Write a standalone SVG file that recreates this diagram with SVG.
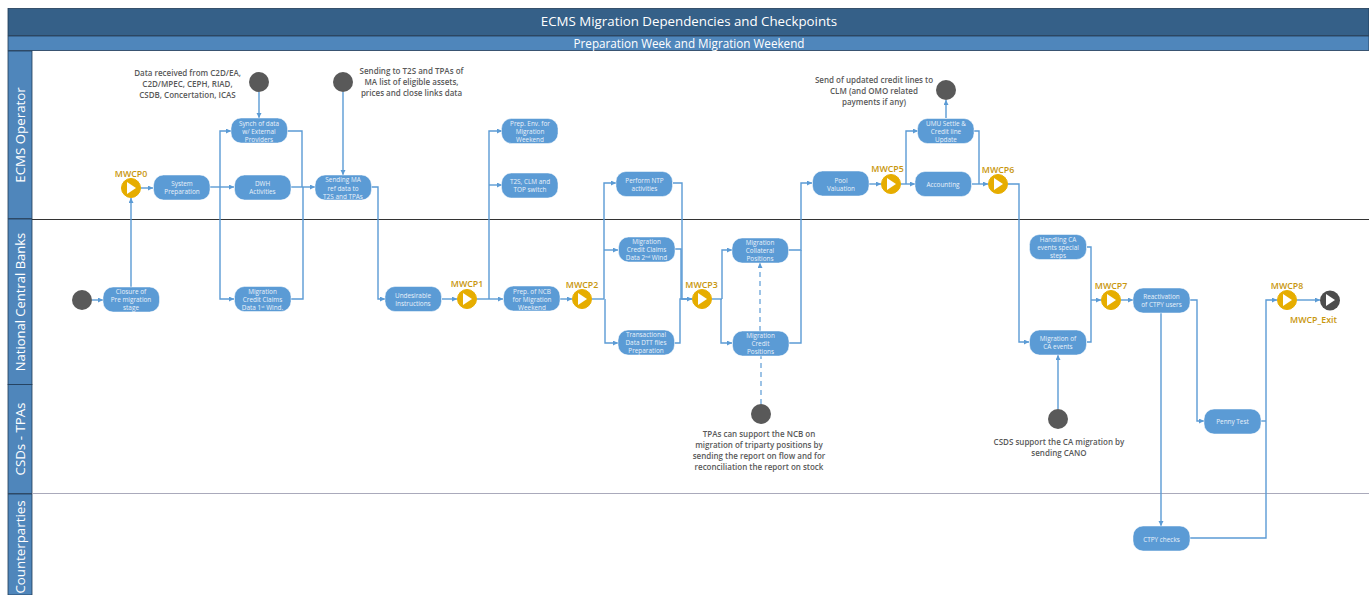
<svg xmlns="http://www.w3.org/2000/svg" width="1369" height="595" viewBox="0 0 1369 595">
<style>
text{font-family:"Open Sans","Noto Sans","Liberation Sans",sans-serif}
.n rect{fill:#5b9bd5;stroke:#fff;stroke-width:.5}
.n text{fill:#eaf2fa;font-size:6.4px;text-anchor:middle}
.c{fill:none;stroke:#5b9bd5;stroke-width:1.4;marker-end:url(#a)}
.p{fill:none;stroke:#5b9bd5;stroke-width:1.4}
.d{fill:none;stroke:#5b9bd5;stroke-width:1.2;stroke-dasharray:5 4}
.g circle{fill:#595959}
.cp circle{fill:#e6ad00;stroke:#e6ad00}
.cp polygon,.x polygon{fill:#fff}
.cp text,.x text{fill:#c8960c;font-size:8.8px;font-weight:600;text-anchor:middle}
.l{fill:#595959;font-size:8px;font-weight:600;text-anchor:middle}
.h{fill:#fff;text-anchor:middle}
.lane{fill:#4f86bb;stroke:#1f3a56;stroke-width:.8}
</style>
<defs><marker id="a" markerWidth="6" markerHeight="6" refX="5" refY="2.5" orient="auto" markerUnits="userSpaceOnUse"><path d="M0 0L5 2.5L0 5z" fill="#5b9bd5"/></marker></defs>
<rect width="1369" height="595" fill="#fff"/>
<g id="header">
<rect x="8" y="8.500" width="1361" height="27" fill="#356088" stroke="#1f3a56" stroke-width=".8"/>
<rect x="8" y="36" width="1361" height="14.500" fill="#4f86bb" stroke="#1f3a56" stroke-width=".8"/>
<text class="h" x="689" y="26" font-size="13.300">ECMS Migration Dependencies and Checkpoints</text>
<text class="h" x="689" y="47.500" font-size="11.700">Preparation Week and Migration Weekend</text>
</g>
<g id="lanes">
<rect class="lane" x="8" y="51" width="24" height="167.500"/>
<rect class="lane" x="8" y="219" width="24" height="165.500"/>
<rect class="lane" x="8" y="384.500" width="24" height="109"/>
<rect class="lane" x="8" y="494" width="24" height="101"/>
<path d="M32 219.500H1369" stroke="#333" stroke-width="1"/>
<path d="M32 493.500H1369" stroke="#aab" stroke-width="1"/>
<text class="h" transform="translate(25 135) rotate(-90)" font-size="13.300">ECMS Operator</text>
<text class="h" transform="translate(25 302) rotate(-90)" font-size="13">National Central Banks</text>
<text class="h" transform="translate(25 439) rotate(-90)" font-size="13.300">CSDs - TPAs</text>
<text class="h" transform="translate(25 547) rotate(-90)" font-size="13.300">Counterparties</text>
</g>
<g id="connectors">
<path class="c" d="M259 92V118"/>
<path class="c" d="M343 92V175"/>
<path class="c" d="M92 300H103"/>
<path class="c" d="M131 287V198"/>
<path class="c" d="M141 188H153"/>
<path class="c" d="M210 187H234"/>
<path class="c" d="M220 187V131H231"/>
<path class="c" d="M220 187V299H234"/>
<path class="p" d="M287 131H302V187"/>
<path class="c" d="M291 187H315"/>
<path class="p" d="M291 299H303V187"/>
<path class="c" d="M371 187H378V299H385"/>
<path class="c" d="M442 299H457"/>
<path class="c" d="M477 299H503"/>
<path class="c" d="M489 299V131H502"/>
<path class="c" d="M489 185H502"/>
<path class="c" d="M560 299H572"/>
<path class="p" d="M592 299H604"/>
<path class="c" d="M604 299V183H616"/>
<path class="c" d="M604 250H618"/>
<path class="c" d="M605 299V343H618"/>
<path class="c" d="M673 183H682V299H692"/>
<path class="p" d="M675 249H681V299"/>
<path class="p" d="M674 343H680V299H692"/>
<path class="p" d="M712 299H722"/>
<path class="c" d="M722 299V250H732"/>
<path class="c" d="M721 299V343H732"/>
<path class="c" d="M788 250H801V183H812"/>
<path class="p" d="M789 343H801V250"/>
<path class="c" d="M869 184H881"/>
<path class="c" d="M901 184H915"/>
<path class="c" d="M906 184V131H918"/>
<path class="c" d="M946 118V100"/>
<path class="p" d="M974 131H979V184"/>
<path class="c" d="M972 184H988"/>
<path class="c" d="M1008 184H1019V342H1029"/>
<path class="p" d="M1087 247H1091V342H1087"/>
<path class="c" d="M1091 300H1101"/>
<path class="c" d="M1058 409V355"/>
<path class="d" d="M761 404V356"/>
<path class="d" d="M760 331V263" marker-end="url(#a)"/>
<path class="c" d="M1121 300H1133"/>
<path class="c" d="M1190 300H1197V421H1204"/>
<path class="c" d="M1161 313V526"/>
<path class="p" d="M1261 421H1266"/>
<path class="c" d="M1190 538H1266V300H1277"/>
<path class="c" d="M1297 300H1320"/>
</g>
<g id="start1" class="g"><circle cx="259" cy="82" r="10"/></g>
<g id="start2" class="g"><circle cx="343" cy="82" r="10"/></g>
<g id="start3" class="g"><circle cx="82" cy="300" r="10"/></g>
<g id="end1" class="g"><circle cx="946" cy="90" r="10"/></g>
<g id="start4" class="g"><circle cx="761" cy="414" r="10"/></g>
<g id="start5" class="g"><circle cx="1058" cy="419" r="10"/></g>
<g id="note1"><text class="l" x="187.500" y="76">Data received from C2D/EA,</text><text class="l" x="187.500" y="87">C2D/MPEC, CEPH, RIAD,</text><text class="l" x="187.500" y="98">CSDB, Concertation, ICAS</text></g>
<g id="note2"><text class="l" x="411.500" y="73.500">Sending to T2S and TPAs of</text><text class="l" x="411.500" y="84.500">MA list of eligible assets,</text><text class="l" x="411.500" y="95.500">prices and close links data</text></g>
<g id="note3"><text class="l" x="874" y="82.500">Send of updated credit lines to</text><text class="l" x="874" y="93.500">CLM (and OMO related</text><text class="l" x="874" y="104.500">payments if any)</text></g>
<g id="note4"><text class="l" x="759" y="436.500">TPAs can support the NCB on</text><text class="l" x="759" y="447.500">migration of triparty positions by</text><text class="l" x="759" y="458.500">sending the report on flow and for</text><text class="l" x="759" y="469.500">reconciliation the report on stock</text></g>
<g id="note5"><text class="l" x="1059" y="445">CSDS support the CA migration by</text><text class="l" x="1059" y="456">sending CANO</text></g>
<g id="n_synch" class="n"><rect x="231" y="118" width="56.500" height="25" rx="10"/><text x="259" y="125.500">Synch of data</text><text x="259" y="133.500">w/ External</text><text x="259" y="142">Providers</text></g>
<g id="n_system" class="n"><rect x="153.500" y="175" width="56.500" height="25" rx="10"/><text x="182" y="186">System</text><text x="182" y="194">Preparation</text></g>
<g id="n_dwh" class="n"><rect x="234.500" y="175" width="56.500" height="25" rx="10"/><text x="262.500" y="186">DWH</text><text x="262.500" y="194">Activities</text></g>
<g id="n_sending" class="n"><rect x="315" y="175" width="56.500" height="25" rx="10"/><text x="343" y="182">Sending MA</text><text x="343" y="190.500">ref data to</text><text x="343" y="198.500">T2S and TPAs</text></g>
<g id="n_closure" class="n"><rect x="103" y="287" width="56.500" height="25" rx="10"/><text x="131" y="294">Closure of</text><text x="131" y="302">Pre migration</text><text x="131" y="310">stage</text></g>
<g id="n_mcc1" class="n"><rect x="234.500" y="286.500" width="56.500" height="25" rx="10"/><text x="262.500" y="293.500">Migration</text><text x="262.500" y="301.500">Credit Claims</text><text x="262.500" y="309.500">Data 1<tspan font-size="4" dy="-2">st</tspan><tspan dy="2"> Wind.</tspan></text></g>
<g id="n_undesirable" class="n"><rect x="385" y="286.500" width="56.500" height="25" rx="10"/><text x="413" y="297.500">Undesirable</text><text x="413" y="305.500">Instructions</text></g>
<g id="n_prepenv" class="n"><rect x="501.500" y="118.500" width="56.500" height="25" rx="10"/><text x="530" y="125.500">Prep. Env. for</text><text x="530" y="133.500">Migration</text><text x="530" y="141.500">Weekend</text></g>
<g id="n_t2s" class="n"><rect x="501.500" y="173" width="56.500" height="25" rx="10"/><text x="530" y="183.500">T2S, CLM and</text><text x="530" y="191.500">TOP switch</text></g>
<g id="n_prepncb" class="n"><rect x="503.500" y="286" width="56.500" height="25" rx="10"/><text x="532" y="293.500">Prep. of NCB</text><text x="532" y="301.500">for Migration</text><text x="532" y="309.500">Weekend</text></g>
<g id="n_ntp" class="n"><rect x="616" y="171.500" width="56.500" height="25" rx="10"/><text x="644.500" y="182.500">Perform NTP</text><text x="644.500" y="190.500">activities</text></g>
<g id="n_mcc2" class="n"><rect x="618.500" y="237" width="56.500" height="25" rx="10"/><text x="646.500" y="244">Migration</text><text x="646.500" y="252">Credit Claims</text><text x="646.500" y="260">Data 2<tspan font-size="4" dy="-2">nd</tspan><tspan dy="2"> Wind</tspan></text></g>
<g id="n_dtt" class="n"><rect x="618" y="330" width="56.500" height="25" rx="10"/><text x="646" y="336.500">Transactional</text><text x="646" y="344.500">Data DTT files</text><text x="646" y="353">Preparation</text></g>
<g id="n_collateral" class="n"><rect x="732" y="238" width="56.500" height="25" rx="10"/><text x="760" y="245">Migration</text><text x="760" y="253">Collateral</text><text x="760" y="261">Positions</text></g>
<g id="n_credit" class="n"><rect x="732.500" y="331" width="56.500" height="25" rx="10"/><text x="760.500" y="338">Migration</text><text x="760.500" y="346">Credit</text><text x="760.500" y="354">Positions</text></g>
<g id="n_pool" class="n"><rect x="812.500" y="171" width="56.500" height="25" rx="10"/><text x="841" y="182.500">Pool</text><text x="841" y="190.500">Valuation</text></g>
<g id="n_umu" class="n"><rect x="917.500" y="118.500" width="56.500" height="25" rx="10"/><text x="946" y="125.500">UMU Settle &amp;</text><text x="946" y="133.500">Credit line</text><text x="946" y="141.500">Update</text></g>
<g id="n_accounting" class="n"><rect x="915" y="171.500" width="56.500" height="25" rx="10"/><text x="943" y="186.500">Accounting</text></g>
<g id="n_handling" class="n"><rect x="1029.500" y="234.500" width="57" height="25" rx="10"/><text x="1058" y="241.500">Handling CA</text><text x="1058" y="249.500">events special</text><text x="1058" y="257.500">steps</text></g>
<g id="n_migca" class="n"><rect x="1029.500" y="330" width="57" height="25" rx="10"/><text x="1058" y="341">Migration of</text><text x="1058" y="349">CA events</text></g>
<g id="n_react" class="n"><rect x="1133" y="288" width="57" height="25" rx="10"/><text x="1161.500" y="298.500">Reactivation</text><text x="1161.500" y="306.500">of CTPY users</text></g>
<g id="n_penny" class="n"><rect x="1204" y="409" width="57" height="25" rx="10"/><text x="1232.500" y="424">Penny Test</text></g>
<g id="n_ctpy" class="n"><rect x="1133" y="526" width="57" height="25" rx="10"/><text x="1161.500" y="541.500">CTPY checks</text></g>
<g id="MWCP0" class="cp"><circle cx="131" cy="188" r="9.500"/><polygon points="127,182 127,194 136,188"/><text x="131" y="176.500">MWCP0</text></g>
<g id="MWCP1" class="cp"><circle cx="467" cy="299" r="9.500"/><polygon points="463,293 463,305 472,299"/><text x="467" y="286.500">MWCP1</text></g>
<g id="MWCP2" class="cp"><circle cx="582" cy="299" r="9.500"/><polygon points="578,293 578,305 587,299"/><text x="582" y="288">MWCP2</text></g>
<g id="MWCP3" class="cp"><circle cx="702" cy="299" r="9.500"/><polygon points="698,293 698,305 707,299"/><text x="701.500" y="288">MWCP3</text></g>
<g id="MWCP5" class="cp"><circle cx="891" cy="184" r="9.500"/><polygon points="887,178 887,190 896,184"/><text x="887.500" y="172">MWCP5</text></g>
<g id="MWCP6" class="cp"><circle cx="998" cy="184" r="9.500"/><polygon points="994,178 994,190 1003,184"/><text x="998" y="172.500">MWCP6</text></g>
<g id="MWCP7" class="cp"><circle cx="1111" cy="300" r="9.500"/><polygon points="1107,294 1107,306 1116,300"/><text x="1111" y="289">MWCP7</text></g>
<g id="MWCP8" class="cp"><circle cx="1287" cy="300" r="9.500"/><polygon points="1283,294 1283,306 1292,300"/><text x="1287" y="289">MWCP8</text></g>
<g id="MWCP_Exit" class="x"><circle cx="1330" cy="300.500" r="10" fill="#4d4d4d"/><polygon points="1326,294 1326,306 1335,300"/><text x="1313.500" y="323">MWCP_Exit</text></g>
</svg>
